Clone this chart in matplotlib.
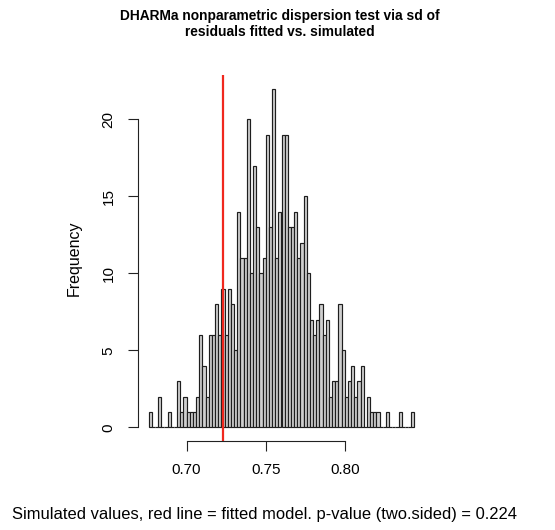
import numpy as np
import matplotlib
matplotlib.use("Agg")
import matplotlib.pyplot as plt

plt.rcParams['font.family'] = ['Liberation Sans', 'DejaVu Sans']

# histogram of simulated sd values, bin width 0.002 starting at 0.676
bin_start = 0.676
bin_width = 0.002
counts = [1, 0, 0, 2, 0, 0, 1, 0, 0, 3, 1, 2, 1, 1, 1, 2,
          6, 4, 2, 6, 6, 8, 6, 9, 6, 9, 8, 5,
          14, 11, 11, 20, 10, 17, 13, 10, 11, 19, 13, 22,
          11, 14, 19, 19, 13, 13, 14, 11, 12, 15, 10,
          7, 6, 7, 8, 6, 7, 2, 3, 3, 8, 5,
          2, 3, 4, 2, 3, 4, 0, 2, 1, 1, 1, 0, 0, 1, 0, 0, 0, 1, 0, 0, 0, 1]
observed = 0.7228
p_value = 0.224

xticks = [0.70, 0.75, 0.80]
yticks = [0, 5, 10, 15, 20]

edges = bin_start + bin_width * np.arange(len(counts) + 1)
lefts = edges[:-1]

W, H = 555, 530
fig = plt.figure(figsize=(W / 100, H / 100), dpi=100)
ax = fig.add_axes([138 / W, (H - 441) / H, (425 - 138) / W, (441 - 75) / H])

ax.bar(lefts, counts, width=bin_width, align='edge', color='#cfcfcf',
       edgecolor='#1e1e1e', linewidth=0.85)
ax.axvline(observed, color='#f0281e', linewidth=1.6)

span = edges[-1] - edges[0]
ax.set_xlim(edges[0] - 0.04 * span, edges[-1] + 0.04 * span)
top = max(counts)
ax.set_ylim(-0.04 * top, top * 1.04)

for s in ['top', 'right']:
    ax.spines[s].set_visible(False)
ax.spines['left'].set_bounds(yticks[0], yticks[-1])
ax.spines['bottom'].set_bounds(xticks[0], xticks[-1])
for s in ['left', 'bottom']:
    ax.spines[s].set_linewidth(0.8)
    ax.spines[s].set_color('#222222')

ax.set_xticks(xticks)
ax.set_xticklabels([f"{v:.2f}" for v in xticks])
ax.set_yticks(yticks)
ax.set_yticklabels([str(v) for v in yticks], rotation=90, va='center')
ax.tick_params(direction='out', length=7.2, width=0.8, color='#222222',
               labelsize=11, pad=9)

ax.set_ylabel("Frequency", fontsize=11.5, labelpad=14)

fig.text(280 / W, 1 - 24 / H,
         "DHARMa nonparametric dispersion test via sd of\nresiduals fitted vs. simulated",
         ha='center', va='center', fontsize=9.9, fontweight='bold',
         linespacing=1.15)
fig.text(264 / W, 1 - 515 / H,
         f"Simulated values, red line = fitted model. p-value (two.sided) = {p_value}",
         ha='center', va='center', fontsize=11.85)

fig.savefig("out.png", dpi=100)
